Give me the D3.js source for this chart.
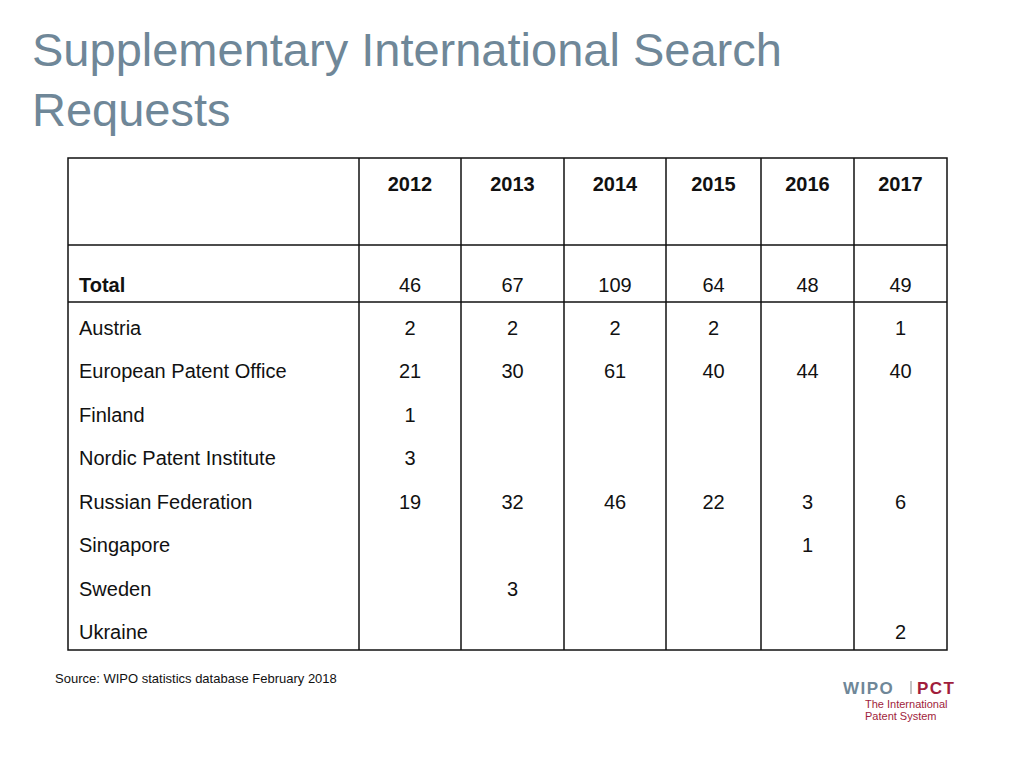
<!DOCTYPE html><html><head><meta charset="utf-8"><script src="https://cdn.jsdelivr.net/npm/d3@7"></script>
<style>body{margin:0;background:#fff}svg{display:block;font-family:"Liberation Sans",Arial,sans-serif}</style></head><body><svg id="c" width="1024" height="768"></svg>
<script>
const years=["2012","2013","2014","2015","2016","2017"];
const rowNames=["Austria","European Patent Office","Finland","Nordic Patent Institute","Russian Federation","Singapore","Sweden","Ukraine"];
const totals=[46,67,109,64,48,49];
const values=[
 [2,2,2,2,null,1],
 [21,30,61,40,44,40],
 [1,null,null,null,null,null],
 [3,null,null,null,null,null],
 [19,32,46,22,3,6],
 [null,null,null,null,1,null],
 [null,3,null,null,null,null],
 [null,null,null,null,null,2]];
(function(){
const svg=d3.select("#c");
svg.append("text").attr("x",32).attr("y",66).attr("font-size",47).attr("fill","#6f8798").text("Supplementary International Search");
svg.append("text").attr("x",32).attr("y",126).attr("font-size",47).attr("fill","#6f8798").text("Requests");
const colEdges=[68,359,461,564,666,761,854,947];
const x=i=>(colEdges[i+1]+colEdges[i+2])/2;
const tTop=158,hb=245,tb=302,bottom=650;
const y=d3.scalePoint().domain(rowNames).range([328,632]);
const g=svg.append("g").attr("stroke","#111").attr("stroke-width",1.5);
g.append("rect").attr("x",68).attr("y",tTop).attr("width",947-68).attr("height",bottom-tTop).attr("fill","none");
colEdges.slice(1,-1).forEach(c=>g.append("line").attr("x1",c).attr("x2",c).attr("y1",tTop).attr("y2",bottom));
[hb,tb].forEach(v=>g.append("line").attr("x1",68).attr("x2",947).attr("y1",v).attr("y2",v));
const t=svg.append("g").attr("font-size",20).attr("fill","#111");
years.forEach((yr,i)=>t.append("text").attr("x",x(i)).attr("y",191).attr("text-anchor","middle").attr("font-weight","bold").text(yr));
t.append("text").attr("x",79).attr("y",292).attr("font-weight","bold").text("Total");
totals.forEach((v,i)=>t.append("text").attr("x",x(i)).attr("y",292).attr("text-anchor","middle").text(v));
rowNames.forEach((r,j)=>{
 t.append("text").attr("x",79).attr("y",y(r)+7).text(r);
 values[j].forEach((v,i)=>{if(v!=null)t.append("text").attr("x",x(i)).attr("y",y(r)+7).attr("text-anchor","middle").text(v);});
});
svg.append("text").attr("x",55).attr("y",683).attr("font-size",13).attr("fill","#111").text("Source: WIPO statistics database  February 2018");
svg.append("text").attr("x",843).attr("y",694).attr("font-size",17).attr("font-weight","bold").attr("fill","#6f8798").attr("letter-spacing",1.5).text("WIPO");
svg.append("line").attr("x1",911).attr("x2",911).attr("y1",681).attr("y2",694).attr("stroke","#b0b0b0").attr("stroke-width",1.5);
svg.append("text").attr("x",917).attr("y",694).attr("font-size",17).attr("font-weight","bold").attr("fill","#a01d3c").attr("letter-spacing",1.5).text("PCT");
svg.append("text").attr("x",865).attr("y",708).attr("font-size",11).attr("fill","#a01d3c").text("The International");
svg.append("text").attr("x",865).attr("y",720).attr("font-size",11).attr("fill","#a01d3c").text("Patent System");
})();
</script></body></html>
